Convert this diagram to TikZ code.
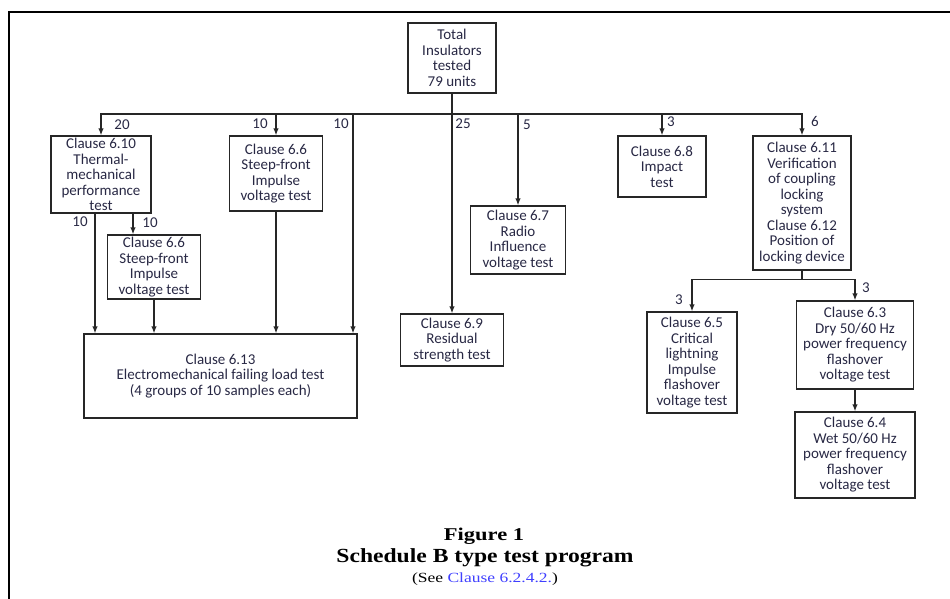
\documentclass[tikz,border=0pt]{standalone}
\usepackage{fontspec}
\setmainfont{Liberation Serif}
\newfontfamily\boxfont{Carlito}
\usepackage{xcolor}
\usepackage{graphicx}
\usepackage{tikz}
\usetikzlibrary{arrows.meta}

\definecolor{ink}{RGB}{40,40,68}
\definecolor{linkblue}{RGB}{64,64,255}

\begin{document}
\begin{tikzpicture}[
  x=1pt, y=-1pt,
  box/.style={draw=black!85, line width=1.3pt, inner sep=0pt, align=center, text=ink, font=\boxfont\fontsize{15}{15.5}\selectfont},
  lbl/.style={inner sep=0pt, text=ink, font=\boxfont\fontsize{15}{15.5}\selectfont},
  arr/.style={-{Latex[length=7pt,width=5.5pt]}, line width=1.3pt, draw=black!85},
  conn/.style={line width=1.3pt, draw=black!85},
  capt/.style={inner sep=0pt, anchor=base}
]
\useasboundingbox (0,0) rectangle (950,599);
\draw[line width=2pt] (9,599) -- (9,12) -- (950,12);

% boxes
\node[box, minimum width=88pt, minimum height=70pt] (tot) at (452,58) {Total\\Insulators\\tested\\79 units};
\node[box, minimum width=100pt, minimum height=77pt] (c610) at (101,174.5) {Clause 6.10\\Thermal-\\mechanical\\performance\\test};
\node[box, minimum width=93pt, minimum height=75pt] (c66a) at (276,173.5) {Clause 6.6\\Steep-front\\Impulse\\voltage test};
\node[box, minimum width=93pt, minimum height=64pt] (c66b) at (154,267) {Clause 6.6\\Steep-front\\Impulse\\voltage test};
\node[box, minimum width=273pt, minimum height=84pt] (c613) at (220.5,376) {Clause 6.13\\Electromechanical failing load test\\(4 groups of 10 samples each)};
\node[box, minimum width=103pt, minimum height=52pt] (c69) at (452,340) {Clause 6.9\\Residual\\strength test};
\node[box, minimum width=95pt, minimum height=68pt] (c67) at (518,240) {Clause 6.7\\Radio\\Influence\\voltage test};
\node[box, minimum width=88pt, minimum height=61pt] (c68) at (662,166.5) {Clause 6.8\\Impact\\test};
\node[box, minimum width=98pt, minimum height=134pt] (c611) at (802,203) {Clause 6.11\\Verification\\of coupling\\locking\\system\\Clause 6.12\\Position of\\locking device};
\node[box, minimum width=90pt, minimum height=101pt] (c65) at (692,362.5) {Clause 6.5\\Critical\\lightning\\Impulse\\flashover\\voltage test};
\node[box, minimum width=117pt, minimum height=88pt] (c63) at (855,345) {Clause 6.3\\Dry 50/60 Hz\\power frequency\\flashover\\voltage test};
\node[box, minimum width=120pt, minimum height=86pt] (c64) at (855,455) {Clause 6.4\\Wet 50/60 Hz\\power frequency\\flashover\\voltage test};

% distribution line
\coordinate (bus) at (452,114);
\coordinate (j3) at (353,114);
\draw[arr] (tot) -- (c69);
\draw[arr] (bus) -| (c610);
\draw[arr] (bus) -| (c611);
\draw[arr] (c66a |- bus) -- (c66a);
\draw[arr] (j3) -- (j3 |- c613.north);
\draw[arr] (c67 |- bus) -- (c67);
\draw[arr] (c68 |- bus) -- (c68);

% into clause 6.13
\draw[arr] ([xshift=-6pt]c610.south) -- ([xshift=-6pt]c610.south |- c613.north);
\draw[arr] ([xshift=32pt]c610.south) -- ([xshift=32pt]c610.south |- c66b.north);
\draw[arr] (c66b) -- (c66b |- c613.north);
\draw[arr] (c66a) -- (c66a |- c613.north);

% below clause 6.11
\coordinate (fork) at ([yshift=-9pt]c611.south);
\draw[conn] (c611) -- (fork);
\draw[arr] (fork) -| (c65);
\draw[arr] (fork) -| (c63);
\draw[arr] (c63) -- (c64);

% quantities
\node[lbl] (n20) at (122,125) {20};
\node[lbl] (n10a) at (260,124) {10};
\node[lbl] (n10b) at (341,124) {10};
\node[lbl] (n25) at (463,124) {25};
\node[lbl] (n5) at (527,125) {5};
\node[lbl] (n3a) at (671,122) {3};
\node[lbl] (n6) at (815,121) {6};
\node[lbl] (n10c) at (80,222) {10};
\node[lbl] (n10d) at (150,223) {10};
\node[lbl] (n3b) at (679,300) {3};
\node[lbl] (n3c) at (866,288) {3};

% caption
\node[capt, font=\bfseries\fontsize{18}{18}\selectfont] (fig) at (484,540) {\scalebox{1.25}[1]{Figure 1}};
\node[capt, font=\bfseries\fontsize{20}{20}\selectfont] (sched) at (485,562) {\scalebox{1.18}[1]{Schedule B type test program}};
\node[capt, font=\fontsize{14}{14}\selectfont] (see) at (485,582) {\scalebox{1.25}[1]{(See \textcolor{linkblue}{Clause 6.2.4.2.})}};
\end{tikzpicture}
\end{document}
